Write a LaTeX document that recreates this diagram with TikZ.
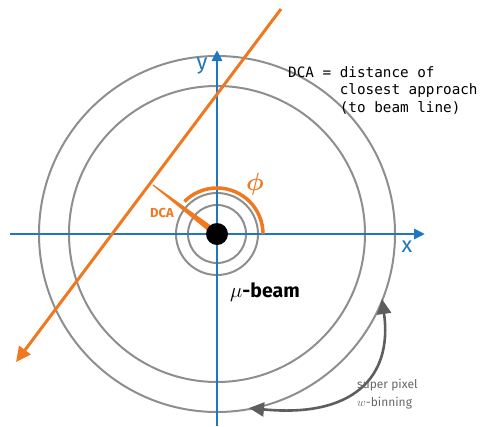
\documentclass[tikz,border=0pt]{standalone}
\usepackage{amsmath}
\usepackage{fontspec}
\setsansfont{Fira Sans}
\setmonofont{DejaVu Sans Mono}
\usetikzlibrary{arrows.meta,calc}
\definecolor{axblue}{HTML}{1F78BE}
\definecolor{trk}{HTML}{F07820}
\definecolor{ring}{HTML}{8E8E8E}
\definecolor{dgray}{HTML}{5E5E5E}
\definecolor{tgray}{HTML}{666666}
\begin{document}
\begin{tikzpicture}[x=1pt,y=-1pt,
  axisline/.style={axblue, line width=2.8pt, -{Triangle[length=11pt,width=10pt]}},
  ringline/.style={ring, line width=2pt},
  trackline/.style={trk, line width=3pt, -{Triangle[length=15pt,width=14pt]}},
  phiarc/.style={trk, line width=3.5pt},
  binarrow/.style={dgray, line width=2.6pt, {Triangle[length=15pt,width=14pt]}-{Triangle[length=15pt,width=14pt]}},
  axlabel/.style={axblue, font=\sffamily\fontsize{22}{22}\selectfont, inner sep=0pt},
  txt/.style={inner sep=0pt}]
\useasboundingbox (0,0) rectangle (489,426);
\coordinate (O) at (217,234);
\coordinate (xl) at (10,234);
\coordinate (xr) at (425,234);
\coordinate (yb) at (217,426);
\coordinate (yt) at (217,50);
\coordinate (t1) at (281,9);
\coordinate (t2) at (16,362);
\coordinate (F) at (153,185);
\coordinate (bA) at (382,299);
\coordinate (bB) at (249,408);
% rings
\draw[ringline] (O) circle[radius=178];
\draw[ringline] (O) circle[radius=148];
\draw[ringline] (O) circle[radius=41];
\draw[ringline] (O) circle[radius=29];
% axes
\draw[axisline] (xl) -- (xr);
\draw[axisline] (yb) -- (yt);
% track
\draw[trackline] (t1) -- (t2);
% phi arc
\draw[phiarc] ($(O)+(46,0)$) arc[start angle=0, end angle=-135, radius=46];
% DCA wedge
\fill[trk] ($(F)!0.6pt!90:(O)$) -- ($(O)!3.4pt!-90:(F)$) -- ($(O)!3.4pt!90:(F)$) -- ($(F)!0.6pt!-90:(O)$) -- cycle;
% beam dot
\fill[black] (O) circle[radius=11];
% binning arrow
\draw[binarrow] (bB) .. controls (352,418) and (393,378) .. (bA);
% labels
\node[axlabel] (ylab) at (202,66) {y};
\node[axlabel] (xlab) at (407,247) {x};
\node[txt, trk, font=\fontsize{26}{26}\selectfont] (philab) at (255,184) {$\boldsymbol{\phi}$};
\node[txt, trk, font=\sffamily\bfseries\fontsize{13}{13}\selectfont] (dcalab) at (162,213) {DCA};
\node[txt, font=\sffamily\bfseries\fontsize{19.5}{19.5}\selectfont, anchor=base] (beamlab) at (265,297) {$\mu$-beam};
\node[txt, tgray, font=\sffamily\fontsize{12}{18}\selectfont, anchor=base west, align=left] (binlab) at (357,406) {super pixel\\$w$-binning};
\node[txt, font=\ttfamily\fontsize{14.3}{17.6}\selectfont, anchor=base west, align=left] (defn) at (288,112.2) {DCA = distance of\\\hphantom{DCA\ =\ }closest approach\\\hphantom{DCA\ =\ }(to beam line)};
\end{tikzpicture}
\end{document}
